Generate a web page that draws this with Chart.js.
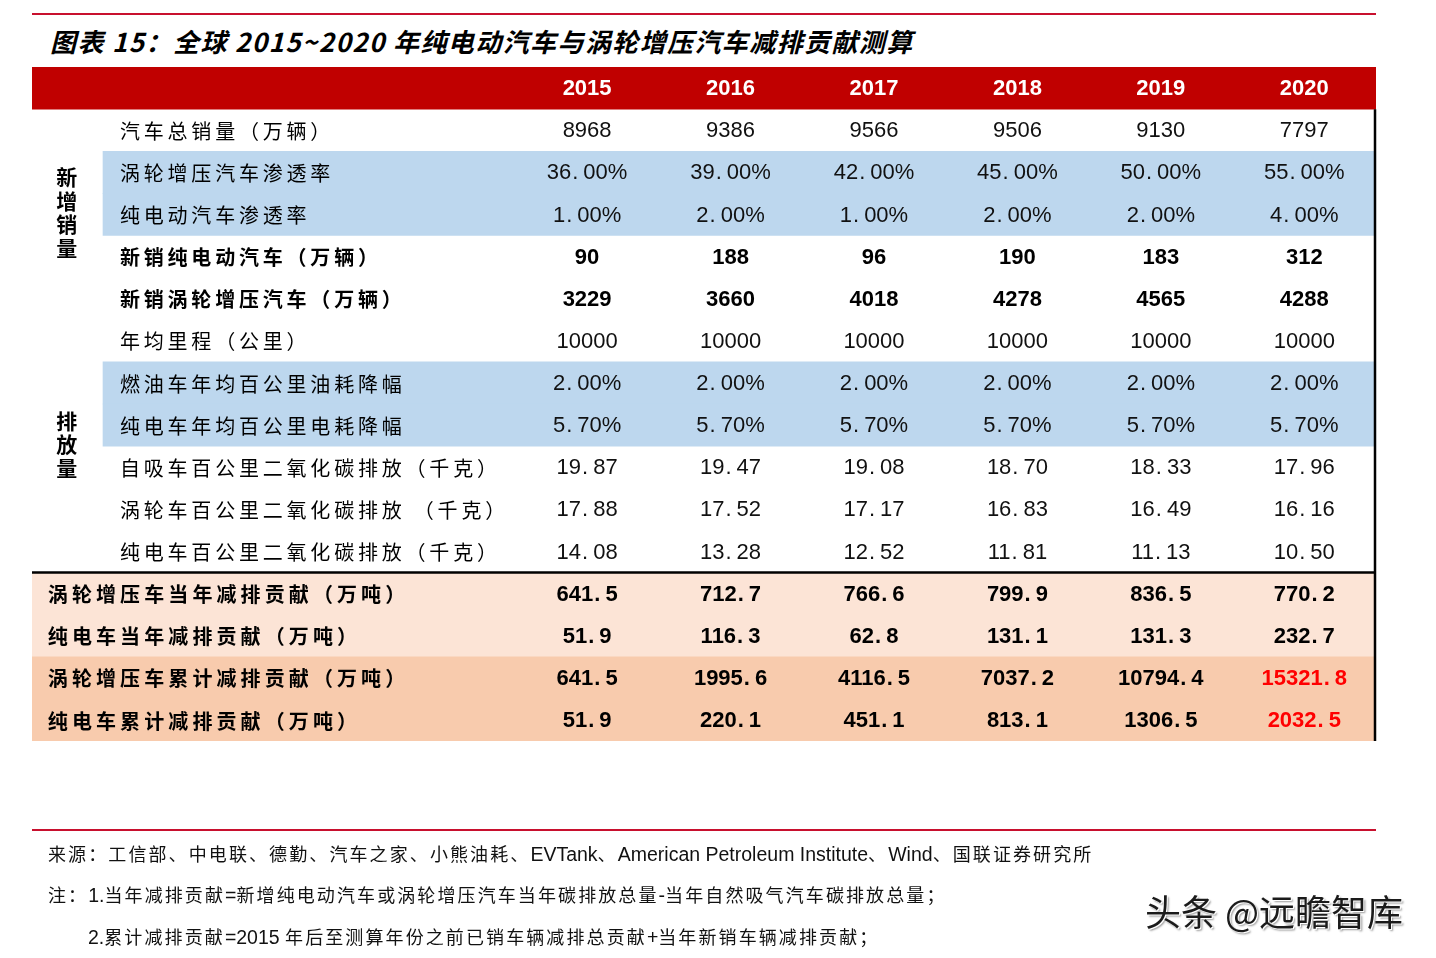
<!DOCTYPE html>
<html lang="zh">
<head>
<meta charset="UTF-8">
<title>全球2015~2020年纯电动汽车与涡轮增压汽车减排贡献测算</title>
<script src="https://cdn.jsdelivr.net/npm/chart.js"></script>
<style>
    body {
        margin: 0;
        background: #fff;
        font-family: 'Noto Sans CJK SC', 'Liberation Sans', sans-serif;
    }
    .page {
        position: relative;
        width: 1436px;
        height: 958px;
        overflow: hidden;
    }
    .page canvas { position: absolute; left: 0; top: 0; }
    .rule {
        position: absolute;
        left: 32px;
        width: 1344px;
        height: 2px;
        background: #c8102e;
    }
    .title {
        position: absolute;
        left: 50px;
        top: 24px;
        font-size: 26px;
        line-height: 34px;
        font-weight: 700;
        font-style: italic;
        letter-spacing: 1.4px;
        color: #000;
    }
    .note {
        position: absolute;
        font-family: 'Noto Sans CJK SC', sans-serif;
        font-size: 18px;
        line-height: 24px;
        letter-spacing: 2.1px;
        color: #111;
        white-space: nowrap;
    }
    .note span {
        font-family: 'Liberation Sans', sans-serif;
        font-size: 19.5px;
        letter-spacing: 0;
    }
    .mark {
        position: absolute;
        left: 1145px;
        top: 886px;
        font-size: 36px;
        line-height: 48px;
        color: #1b1b1b;
        text-shadow: 1px 1px 0 #fff, 2px 2px 2px #999;
        white-space: nowrap;
    }
</style>
</head>
<body>
<div class="page">
    <div class="rule" style="top:13px"></div>
    <div class="title">图表 15：全球 2015~2020 年纯电动汽车与涡轮增压汽车减排贡献测算</div>
    <canvas id="tableChart" width="1436" height="958"></canvas>
    <div class="rule" style="top:829px"></div>
    <div class="note" style="left:48px;top:841px">来源：工信部、中电联、德勤、汽车之家、小熊油耗、<span>EVTank</span>、<span>American Petroleum Institute</span>、<span>Wind</span>、国联证券研究所</div>
    <div class="note" style="left:48px;top:882px">注：<span>1.</span>当年减排贡献<span>=</span>新增纯电动汽车或涡轮增压汽车当年碳排放总量<span>-</span>当年自然吸气汽车碳排放总量；</div>
    <div class="note" style="left:88px;top:924px"><span>2.</span>累计减排贡献<span>=2015 </span>年后至测算年份之前已销车辆减排总贡献<span>+</span>当年新销车辆减排贡献；</div>
    <div class="mark">头条 @远瞻智库</div>
</div>
<script>
    // table data, one array per row
    const years = ['2015', '2016', '2017', '2018', '2019', '2020'];
    const totalSales = ['8968', '9386', '9566', '9506', '9130', '7797'];
    const turboRate = ['36.00%', '39.00%', '42.00%', '45.00%', '50.00%', '55.00%'];
    const evRate = ['1.00%', '2.00%', '1.00%', '2.00%', '2.00%', '4.00%'];
    const newEv = ['90', '188', '96', '190', '183', '312'];
    const newTurbo = ['3229', '3660', '4018', '4278', '4565', '4288'];
    const mileage = ['10000', '10000', '10000', '10000', '10000', '10000'];
    const fuelDrop = ['2.00%', '2.00%', '2.00%', '2.00%', '2.00%', '2.00%'];
    const elecDrop = ['5.70%', '5.70%', '5.70%', '5.70%', '5.70%', '5.70%'];
    const naCo2 = ['19.87', '19.47', '19.08', '18.70', '18.33', '17.96'];
    const turboCo2 = ['17.88', '17.52', '17.17', '16.83', '16.49', '16.16'];
    const evCo2 = ['14.08', '13.28', '12.52', '11.81', '11.13', '10.50'];
    const turboYear = ['641.5', '712.7', '766.6', '799.9', '836.5', '770.2'];
    const evYear = ['51.9', '116.3', '62.8', '131.1', '131.3', '232.7'];
    const turboCum = ['641.5', '1995.6', '4116.5', '7037.2', '10794.4', '15321.8'];
    const evCum = ['51.9', '220.1', '451.1', '813.1', '1306.5', '2032.5'];

    // row label, values, style key
    const rows = [
        ['', years, 'head'],
        ['汽车总销量（万辆）', totalSales, 'plain'],
        ['涡轮增压汽车渗透率', turboRate, 'blue'],
        ['纯电动汽车渗透率', evRate, 'blue'],
        ['新销纯电动汽车（万辆）', newEv, 'bold'],
        ['新销涡轮增压汽车（万辆）', newTurbo, 'bold'],
        ['年均里程（公里）', mileage, 'plain'],
        ['燃油车年均百公里油耗降幅', fuelDrop, 'blue'],
        ['纯电车年均百公里电耗降幅', elecDrop, 'blue'],
        ['自吸车百公里二氧化碳排放（千克）', naCo2, 'plain'],
        ['涡轮车百公里二氧化碳排放 （千克）', turboCo2, 'plain'],
        ['纯电车百公里二氧化碳排放（千克）', evCo2, 'plain'],
        ['涡轮增压车当年减排贡献（万吨）', turboYear, 'peach'],
        ['纯电车当年减排贡献（万吨）', evYear, 'peach'],
        ['涡轮增压车累计减排贡献（万吨）', turboCum, 'peachDark'],
        ['纯电车累计减排贡献（万吨）', evCum, 'peachDark']
    ];
    const groups = [['新增销量', 3], ['排放量', 8.5]];
    const redCells = [[14, 5], [15, 5]];

    // x scale: year columns at 0..5, the label area lies left of 0
    const X_MIN = -3.87, X_MAX = 5.5, X_INDENT = -3.375, X_LABEL = -3.257, X_LABEL_WIDE = -3.76, X_GROUP = -3.627;

    const bandColor = {
        head: '#c00000', blue: '#bdd7ee', peach: '#fce4d6', peachDark: '#f8cbad'
    };
    const bandStart = { head: X_MIN, blue: X_INDENT, peach: X_MIN, peachDark: X_MIN };

    const CJK = "'Noto Sans CJK SC', sans-serif";
    const NUM = "'Liberation Sans', 'Noto Sans CJK SC', sans-serif";

    // numbers drawn with a wide decimal point, like the original typeface
    function drawNumber(ctx, str, cx, cy) {
        const parts = str.split('.');
        if (parts.length < 2) {
            ctx.textAlign = 'center';
            ctx.fillText(str, cx, cy);
            return;
        }
        const w1 = ctx.measureText(parts[0]).width;
        const wd = ctx.measureText('.').width + 6;
        const w2 = ctx.measureText(parts[1]).width;
        const left = cx - (w1 + wd + w2) / 2;
        ctx.textAlign = 'left';
        ctx.fillText(parts[0], left, cy);
        ctx.fillText('.', left + w1 + 1, cy);
        ctx.fillText(parts[1], left + w1 + wd, cy);
    }

    const tableText = {
        id: 'tableText',
        afterDatasetsDraw(chart) {
            const { ctx, scales: { x, y } } = chart;
            ctx.save();
            ctx.textBaseline = 'middle';

            rows.forEach(([label, values, style], r) => {
                const cy = y.getPixelForValue(r);
                const wide = style === 'peach' || style === 'peachDark';
                const bold = style === 'bold' || wide;
                // row label
                if (label) {
                    ctx.fillStyle = '#000';
                    ctx.textAlign = 'left';
                    ctx.letterSpacing = wide ? '4.1px' : '3.8px';
                    ctx.font = (bold ? '700 ' : '400 ') + '20px ' + CJK;
                    ctx.fillText(label, x.getPixelForValue(wide ? X_LABEL_WIDE : X_LABEL), cy + 1);
                    ctx.letterSpacing = '0px';
                }
                // cells
                values.forEach((v, c) => {
                    const cx = x.getPixelForValue(c);
                    if (style === 'head') {
                        ctx.fillStyle = '#fff';
                        ctx.font = '700 22px ' + NUM;
                    } else if (bold) {
                        ctx.fillStyle = redCells.some(([rr, cc]) => rr === r && cc === c) ? '#ff0000' : '#000';
                        ctx.font = '700 22px ' + NUM;
                    } else {
                        ctx.fillStyle = '#111';
                        ctx.font = '400 22px ' + NUM;
                    }
                    drawNumber(ctx, v, cx, cy + 1);
                });
            });

            // stacked group labels
            ctx.fillStyle = '#000';
            ctx.textAlign = 'center';
            ctx.font = '700 21px ' + CJK;
            const step = y.getPixelForValue(1) - y.getPixelForValue(0);
            groups.forEach(([text, at]) => {
                const chars = Array.from(text);
                const mid = y.getPixelForValue(at);
                chars.forEach((ch, i) => {
                    ctx.fillText(ch, x.getPixelForValue(X_GROUP), mid - 2 + (i - (chars.length - 1) / 2) * step * 0.56);
                });
            });

            // black rules
            ctx.strokeStyle = '#000';
            ctx.lineWidth = 2.5;
            const lineY = (y.getPixelForValue(11) + y.getPixelForValue(12)) / 2;
            ctx.beginPath();
            ctx.moveTo(x.left, lineY);
            ctx.lineTo(x.right, lineY);
            ctx.moveTo(x.right - 1, y.getPixelForValue(0.5));
            ctx.lineTo(x.right - 1, y.bottom);
            ctx.stroke();
            ctx.restore();
        }
    };

    new Chart(document.getElementById('tableChart'), {
        type: 'bar',
        data: {
            labels: rows.map(r => r[0] || 'head'),
            datasets: [{
                data: rows.map(r => bandColor[r[2]] ? [bandStart[r[2]], X_MAX] : null),
                backgroundColor: rows.map(r => bandColor[r[2]] || 'transparent'),
                borderWidth: 0,
                barPercentage: 1,
                categoryPercentage: 1
            }]
        },
        options: {
            indexAxis: 'y',
            responsive: false,
            animation: false,
            layout: { padding: { left: 32, right: 60, top: 67, bottom: 217 } },
            plugins: {
                legend: { display: false },
                tooltip: { enabled: false }
            },
            scales: {
                x: { type: 'linear', min: X_MIN, max: X_MAX, display: false },
                y: { display: false }
            }
        },
        plugins: [tableText]
    });
</script>
</body>
</html>
